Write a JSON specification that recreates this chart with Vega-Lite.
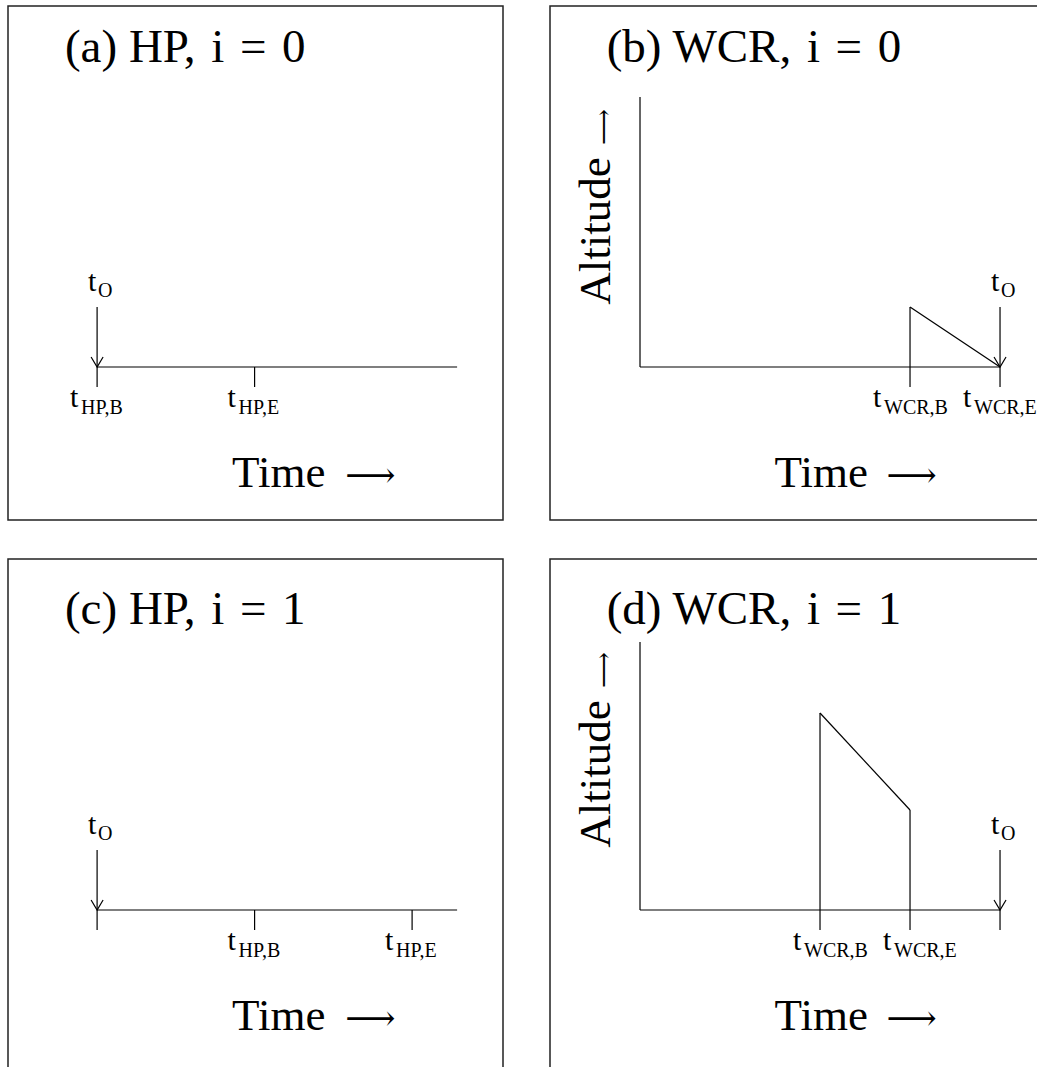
{
  "$schema": "https://vega.github.io/schema/vega-lite/v6.json",
  "background": "white",
  "padding": {"left": 7, "top": 5, "right": 0, "bottom": 0},
  "config": {
    "view": {"stroke": "#222", "strokeWidth": 1.5},
    "text": {"font": "Liberation Serif, DejaVu Serif", "color": "#000"}
  },
  "datasets": {
    "segs": [
      {"panel": "a", "x": 0, "y": 0, "x2": 4, "y2": 0},
      {"panel": "a", "x": 0, "y": 3, "x2": 0, "y2": -1},
      {"panel": "a", "x": 1.75, "y": 0, "x2": 1.75, "y2": -1},
      {"panel": "b", "x": -4, "y": 0, "x2": -4, "y2": 13.5},
      {"panel": "b", "x": -4, "y": 0, "x2": 0, "y2": 0},
      {"panel": "b", "x": -1, "y": 3, "x2": -1, "y2": -1},
      {"panel": "b", "x": -1, "y": 3, "x2": 0, "y2": 0},
      {"panel": "b", "x": 0, "y": 3, "x2": 0, "y2": -1},
      {"panel": "c", "x": 0, "y": 0, "x2": 4, "y2": 0},
      {"panel": "c", "x": 0, "y": 3, "x2": 0, "y2": -1},
      {"panel": "c", "x": 1.75, "y": 0, "x2": 1.75, "y2": -1},
      {"panel": "c", "x": 3.5, "y": 0, "x2": 3.5, "y2": -1},
      {"panel": "d", "x": -4, "y": 0, "x2": -4, "y2": 13.4},
      {"panel": "d", "x": -4, "y": 0, "x2": 0, "y2": 0},
      {"panel": "d", "x": -2, "y": 9.85, "x2": -2, "y2": -1},
      {"panel": "d", "x": -2, "y": 9.85, "x2": -1, "y2": 5},
      {"panel": "d", "x": -1, "y": 5, "x2": -1, "y2": -1},
      {"panel": "d", "x": 0, "y": 3, "x2": 0, "y2": -1}
    ],
    "heads": [
      {"panel": "a", "x": 0, "y": 0},
      {"panel": "b", "x": 0, "y": 0},
      {"panel": "c", "x": 0, "y": 0},
      {"panel": "d", "x": 0, "y": 0}
    ],
    "notes": [
      {"panel": "a", "kind": "title", "x": -0.357, "y": 15.25, "text": "(a) HP,\u2004i\u2004=\u20040"},
      {"panel": "a", "kind": "time", "x": 1.5, "y": -6, "text": "Time"},
      {"panel": "a", "kind": "timearrow", "x": 2.756, "y": -6, "text": "⟶"},
      {"panel": "b", "kind": "title", "x": -4.37, "y": 15.25, "text": "(b) WCR,\u2004i\u2004=\u20040"},
      {"panel": "b", "kind": "time", "x": -2.505, "y": -6, "text": "Time"},
      {"panel": "b", "kind": "timearrow", "x": -1.261, "y": -6, "text": "⟶"},
      {"panel": "b", "kind": "alt", "x": -4.33, "y": 6.8, "text": "Altitude"},
      {"panel": "b", "kind": "altarrow", "x": -4.405, "y": 12.0, "text": "⟶"},
      {"panel": "c", "kind": "title", "x": -0.357, "y": 14.3, "text": "(c) HP,\u2004i\u2004=\u20041"},
      {"panel": "c", "kind": "time", "x": 1.5, "y": -6, "text": "Time"},
      {"panel": "c", "kind": "timearrow", "x": 2.756, "y": -6, "text": "⟶"},
      {"panel": "d", "kind": "title", "x": -4.37, "y": 14.3, "text": "(d) WCR,\u2004i\u2004=\u20041"},
      {"panel": "d", "kind": "time", "x": -2.505, "y": -6, "text": "Time"},
      {"panel": "d", "kind": "timearrow", "x": -1.261, "y": -6, "text": "⟶"},
      {"panel": "d", "kind": "alt", "x": -4.33, "y": 6.8, "text": "Altitude"},
      {"panel": "d", "kind": "altarrow", "x": -4.405, "y": 12.0, "text": "⟶"}
    ],
    "tlabels": [
      {"panel": "a", "group": "O", "x": 0, "y": 3.8, "sub": "O"},
      {"panel": "a", "group": "tick", "x": 0, "y": -2, "sub": "HP,B"},
      {"panel": "a", "group": "tick", "x": 1.75, "y": -2, "sub": "HP,E"},
      {"panel": "b", "group": "O", "x": 0, "y": 3.8, "sub": "O"},
      {"panel": "b", "group": "tick", "x": -1, "y": -2, "sub": "WCR,B"},
      {"panel": "b", "group": "tick", "x": 0, "y": -2, "sub": "WCR,E"},
      {"panel": "c", "group": "O", "x": 0, "y": 3.8, "sub": "O"},
      {"panel": "c", "group": "tick", "x": 1.75, "y": -2, "sub": "HP,B"},
      {"panel": "c", "group": "tick", "x": 3.5, "y": -2, "sub": "HP,E"},
      {"panel": "d", "group": "O", "x": 0, "y": 3.8, "sub": "O"},
      {"panel": "d", "group": "tick", "x": -2, "y": -2, "sub": "WCR,B"},
      {"panel": "d", "group": "tick", "x": -1, "y": -2, "sub": "WCR,E"}
    ]
  },
  "columns": 2,
  "spacing": {"row": 37, "column": 45},
  "align": "each",
  "concat": [
    {
      "width": 495,
      "height": 514,
      "encoding": {
        "x": {"field": "x", "type": "quantitative", "scale": {"domain": [-0.99, 4.51], "nice": false, "zero": false}, "axis": null},
        "y": {"field": "y", "type": "quantitative", "scale": {"domain": [-7.65, 18.05], "nice": false, "zero": false}, "axis": null}
      },
      "layer": [
        {"data": {"name": "segs"}, "transform": [{"filter": "datum.panel === 'a'"}],
         "mark": {"type": "rule", "stroke": "#000", "strokeWidth": 1.2},
         "encoding": {"x2": {"field": "x2"}, "y2": {"field": "y2"}}},
        {"data": {"name": "heads"}, "transform": [{"filter": "datum.panel === 'a'"}],
         "mark": {"type": "point", "shape": "M-1,-1.67L0,0L1,-1.67", "size": 144, "filled": false, "stroke": "#000", "strokeWidth": 1.2, "opacity": 1}},
        {"data": {"name": "notes"}, "transform": [{"filter": "datum.panel === 'a' && datum.kind === 'title'"}],
         "mark": {"type": "text", "align": "left", "baseline": "alphabetic", "fontSize": 47},
         "encoding": {"text": {"field": "text"}}},
        {"data": {"name": "notes"}, "transform": [{"filter": "datum.panel === 'a' && datum.kind === 'time'"}],
         "mark": {"type": "text", "align": "left", "baseline": "alphabetic", "fontSize": 45},
         "encoding": {"text": {"field": "text"}}},
        {"data": {"name": "notes"}, "transform": [{"filter": "datum.panel === 'a' && datum.kind === 'timearrow'"}],
         "mark": {"type": "text", "align": "left", "baseline": "alphabetic", "fontSize": 35, "font": "DejaVu Serif"},
         "encoding": {"text": {"field": "text"}}},
        {"data": {"name": "tlabels"}, "transform": [{"filter": "datum.panel === 'a' && datum.group === 'tick'"}],
         "mark": {"type": "text", "text": "t", "align": "left", "baseline": "alphabetic", "fontSize": 30, "dx": -27}},
        {"data": {"name": "tlabels"}, "transform": [{"filter": "datum.panel === 'a' && datum.group === 'tick'"}],
         "mark": {"type": "text", "align": "left", "baseline": "alphabetic", "fontSize": 20, "dx": -16, "dy": 7},
         "encoding": {"text": {"field": "sub"}}},
        {"data": {"name": "tlabels"}, "transform": [{"filter": "datum.panel === 'a' && datum.group === 'O'"}],
         "mark": {"type": "text", "text": "t", "align": "left", "baseline": "alphabetic", "fontSize": 30, "dx": -9}},
        {"data": {"name": "tlabels"}, "transform": [{"filter": "datum.panel === 'a' && datum.group === 'O'"}],
         "mark": {"type": "text", "align": "left", "baseline": "alphabetic", "fontSize": 20, "dx": 1, "dy": 6},
         "encoding": {"text": {"field": "sub"}}}
      ]
    },
    {
      "width": 489,
      "height": 514,
      "encoding": {
        "x": {"field": "x", "type": "quantitative", "scale": {"domain": [-5.0, 0.433], "nice": false, "zero": false}, "axis": null},
        "y": {"field": "y", "type": "quantitative", "scale": {"domain": [-7.65, 18.05], "nice": false, "zero": false}, "axis": null}
      },
      "layer": [
        {"data": {"name": "segs"}, "transform": [{"filter": "datum.panel === 'b'"}],
         "mark": {"type": "rule", "stroke": "#000", "strokeWidth": 1.2},
         "encoding": {"x2": {"field": "x2"}, "y2": {"field": "y2"}}},
        {"data": {"name": "heads"}, "transform": [{"filter": "datum.panel === 'b'"}],
         "mark": {"type": "point", "shape": "M-1,-1.67L0,0L1,-1.67", "size": 144, "filled": false, "stroke": "#000", "strokeWidth": 1.2, "opacity": 1}},
        {"data": {"name": "notes"}, "transform": [{"filter": "datum.panel === 'b' && datum.kind === 'title'"}],
         "mark": {"type": "text", "align": "left", "baseline": "alphabetic", "fontSize": 47},
         "encoding": {"text": {"field": "text"}}},
        {"data": {"name": "notes"}, "transform": [{"filter": "datum.panel === 'b' && datum.kind === 'time'"}],
         "mark": {"type": "text", "align": "left", "baseline": "alphabetic", "fontSize": 45},
         "encoding": {"text": {"field": "text"}}},
        {"data": {"name": "notes"}, "transform": [{"filter": "datum.panel === 'b' && datum.kind === 'timearrow'"}],
         "mark": {"type": "text", "align": "left", "baseline": "alphabetic", "fontSize": 35, "font": "DejaVu Serif"},
         "encoding": {"text": {"field": "text"}}},
        {"data": {"name": "notes"}, "transform": [{"filter": "datum.panel === 'b' && datum.kind === 'alt'"}],
         "mark": {"type": "text", "align": "center", "baseline": "alphabetic", "angle": 270, "fontSize": 45},
         "encoding": {"text": {"field": "text"}}},
        {"data": {"name": "notes"}, "transform": [{"filter": "datum.panel === 'b' && datum.kind === 'altarrow'"}],
         "mark": {"type": "text", "align": "center", "baseline": "middle", "angle": 270, "fontSize": 25, "font": "DejaVu Serif"},
         "encoding": {"text": {"field": "text"}}},
        {"data": {"name": "tlabels"}, "transform": [{"filter": "datum.panel === 'b' && datum.group === 'tick'"}],
         "mark": {"type": "text", "text": "t", "align": "left", "baseline": "alphabetic", "fontSize": 30, "dx": -37}},
        {"data": {"name": "tlabels"}, "transform": [{"filter": "datum.panel === 'b' && datum.group === 'tick'"}],
         "mark": {"type": "text", "align": "left", "baseline": "alphabetic", "fontSize": 20, "dx": -26, "dy": 7, "clip": true},
         "encoding": {"text": {"field": "sub"}}},
        {"data": {"name": "tlabels"}, "transform": [{"filter": "datum.panel === 'b' && datum.group === 'O'"}],
         "mark": {"type": "text", "text": "t", "align": "left", "baseline": "alphabetic", "fontSize": 30, "dx": -9}},
        {"data": {"name": "tlabels"}, "transform": [{"filter": "datum.panel === 'b' && datum.group === 'O'"}],
         "mark": {"type": "text", "align": "left", "baseline": "alphabetic", "fontSize": 20, "dx": 1, "dy": 6},
         "encoding": {"text": {"field": "sub"}}}
      ]
    },
    {
      "width": 495,
      "height": 510,
      "encoding": {
        "x": {"field": "x", "type": "quantitative", "scale": {"domain": [-0.99, 4.51], "nice": false, "zero": false}, "axis": null},
        "y": {"field": "y", "type": "quantitative", "scale": {"domain": [-7.95, 17.55], "nice": false, "zero": false}, "axis": null}
      },
      "layer": [
        {"data": {"name": "segs"}, "transform": [{"filter": "datum.panel === 'c'"}],
         "mark": {"type": "rule", "stroke": "#000", "strokeWidth": 1.2},
         "encoding": {"x2": {"field": "x2"}, "y2": {"field": "y2"}}},
        {"data": {"name": "heads"}, "transform": [{"filter": "datum.panel === 'c'"}],
         "mark": {"type": "point", "shape": "M-1,-1.67L0,0L1,-1.67", "size": 144, "filled": false, "stroke": "#000", "strokeWidth": 1.2, "opacity": 1}},
        {"data": {"name": "notes"}, "transform": [{"filter": "datum.panel === 'c' && datum.kind === 'title'"}],
         "mark": {"type": "text", "align": "left", "baseline": "alphabetic", "fontSize": 47},
         "encoding": {"text": {"field": "text"}}},
        {"data": {"name": "notes"}, "transform": [{"filter": "datum.panel === 'c' && datum.kind === 'time'"}],
         "mark": {"type": "text", "align": "left", "baseline": "alphabetic", "fontSize": 45},
         "encoding": {"text": {"field": "text"}}},
        {"data": {"name": "notes"}, "transform": [{"filter": "datum.panel === 'c' && datum.kind === 'timearrow'"}],
         "mark": {"type": "text", "align": "left", "baseline": "alphabetic", "fontSize": 35, "font": "DejaVu Serif"},
         "encoding": {"text": {"field": "text"}}},
        {"data": {"name": "tlabels"}, "transform": [{"filter": "datum.panel === 'c' && datum.group === 'tick'"}],
         "mark": {"type": "text", "text": "t", "align": "left", "baseline": "alphabetic", "fontSize": 30, "dx": -27}},
        {"data": {"name": "tlabels"}, "transform": [{"filter": "datum.panel === 'c' && datum.group === 'tick'"}],
         "mark": {"type": "text", "align": "left", "baseline": "alphabetic", "fontSize": 20, "dx": -16, "dy": 7},
         "encoding": {"text": {"field": "sub"}}},
        {"data": {"name": "tlabels"}, "transform": [{"filter": "datum.panel === 'c' && datum.group === 'O'"}],
         "mark": {"type": "text", "text": "t", "align": "left", "baseline": "alphabetic", "fontSize": 30, "dx": -9}},
        {"data": {"name": "tlabels"}, "transform": [{"filter": "datum.panel === 'c' && datum.group === 'O'"}],
         "mark": {"type": "text", "align": "left", "baseline": "alphabetic", "fontSize": 20, "dx": 1, "dy": 6},
         "encoding": {"text": {"field": "sub"}}}
      ]
    },
    {
      "width": 489,
      "height": 510,
      "encoding": {
        "x": {"field": "x", "type": "quantitative", "scale": {"domain": [-5.0, 0.433], "nice": false, "zero": false}, "axis": null},
        "y": {"field": "y", "type": "quantitative", "scale": {"domain": [-7.95, 17.55], "nice": false, "zero": false}, "axis": null}
      },
      "layer": [
        {"data": {"name": "segs"}, "transform": [{"filter": "datum.panel === 'd'"}],
         "mark": {"type": "rule", "stroke": "#000", "strokeWidth": 1.2},
         "encoding": {"x2": {"field": "x2"}, "y2": {"field": "y2"}}},
        {"data": {"name": "heads"}, "transform": [{"filter": "datum.panel === 'd'"}],
         "mark": {"type": "point", "shape": "M-1,-1.67L0,0L1,-1.67", "size": 144, "filled": false, "stroke": "#000", "strokeWidth": 1.2, "opacity": 1}},
        {"data": {"name": "notes"}, "transform": [{"filter": "datum.panel === 'd' && datum.kind === 'title'"}],
         "mark": {"type": "text", "align": "left", "baseline": "alphabetic", "fontSize": 47},
         "encoding": {"text": {"field": "text"}}},
        {"data": {"name": "notes"}, "transform": [{"filter": "datum.panel === 'd' && datum.kind === 'time'"}],
         "mark": {"type": "text", "align": "left", "baseline": "alphabetic", "fontSize": 45},
         "encoding": {"text": {"field": "text"}}},
        {"data": {"name": "notes"}, "transform": [{"filter": "datum.panel === 'd' && datum.kind === 'timearrow'"}],
         "mark": {"type": "text", "align": "left", "baseline": "alphabetic", "fontSize": 35, "font": "DejaVu Serif"},
         "encoding": {"text": {"field": "text"}}},
        {"data": {"name": "notes"}, "transform": [{"filter": "datum.panel === 'd' && datum.kind === 'alt'"}],
         "mark": {"type": "text", "align": "center", "baseline": "alphabetic", "angle": 270, "fontSize": 45},
         "encoding": {"text": {"field": "text"}}},
        {"data": {"name": "notes"}, "transform": [{"filter": "datum.panel === 'd' && datum.kind === 'altarrow'"}],
         "mark": {"type": "text", "align": "center", "baseline": "middle", "angle": 270, "fontSize": 25, "font": "DejaVu Serif"},
         "encoding": {"text": {"field": "text"}}},
        {"data": {"name": "tlabels"}, "transform": [{"filter": "datum.panel === 'd' && datum.group === 'tick'"}],
         "mark": {"type": "text", "text": "t", "align": "left", "baseline": "alphabetic", "fontSize": 30, "dx": -27}},
        {"data": {"name": "tlabels"}, "transform": [{"filter": "datum.panel === 'd' && datum.group === 'tick'"}],
         "mark": {"type": "text", "align": "left", "baseline": "alphabetic", "fontSize": 20, "dx": -16, "dy": 7},
         "encoding": {"text": {"field": "sub"}}},
        {"data": {"name": "tlabels"}, "transform": [{"filter": "datum.panel === 'd' && datum.group === 'O'"}],
         "mark": {"type": "text", "text": "t", "align": "left", "baseline": "alphabetic", "fontSize": 30, "dx": -9}},
        {"data": {"name": "tlabels"}, "transform": [{"filter": "datum.panel === 'd' && datum.group === 'O'"}],
         "mark": {"type": "text", "align": "left", "baseline": "alphabetic", "fontSize": 20, "dx": 1, "dy": 6},
         "encoding": {"text": {"field": "sub"}}}
      ]
    }
  ]
}
